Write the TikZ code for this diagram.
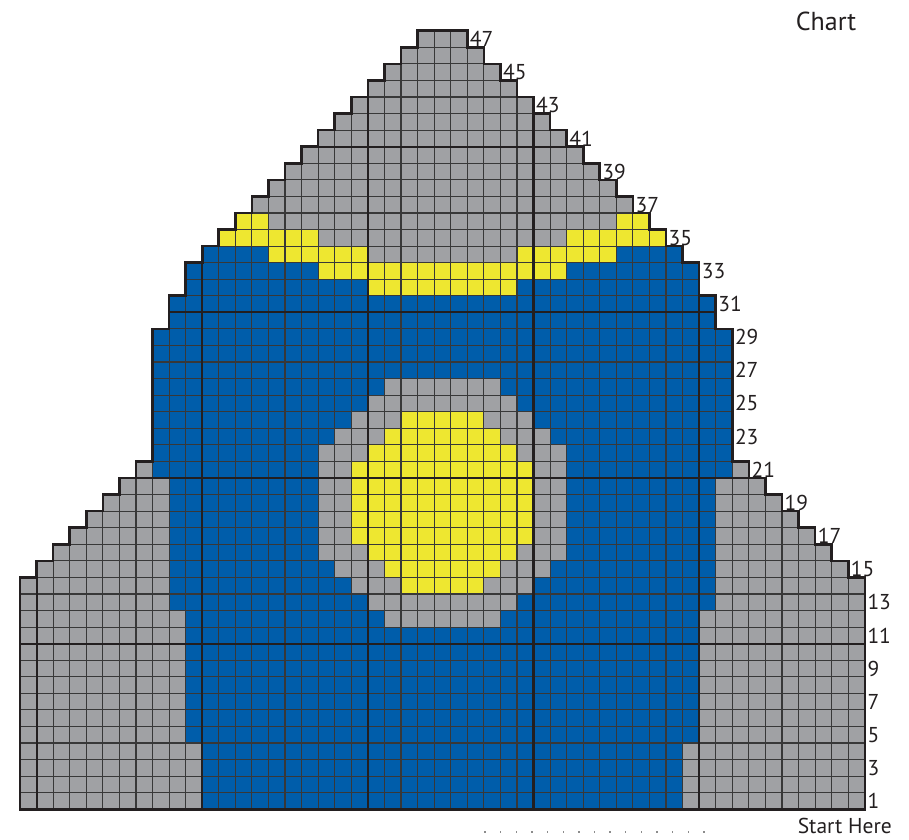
\documentclass[tikz,border=0pt]{standalone}
\usepackage{fontspec}
\setmainfont{PT Sans}
\definecolor{cgray}{HTML}{A0A1A4}
\definecolor{cblue}{HTML}{005DAA}
\definecolor{cyellow}{HTML}{EEE730}
\definecolor{cink}{HTML}{231F20}
\tikzset{
  gridthin/.style={draw=black!78, line width=1.1pt},
  gridthick/.style={draw=cink, line width=2.1pt},
  outlinestyle/.style={draw=cink, line width=2.6pt, line join=miter},
  rowlabel/.style={anchor=west, inner sep=0pt, xshift=2.5pt, font=\fontsize{21.5}{24}\selectfont, text=cink},
  bottomdot/.style={fill=black!45, minimum size=1.4pt, inner sep=0pt, shape=rectangle}
}
\def\outl{(0,0) -- (51,0) -- (51,14) -- (50,14) -- (50,15) -- (49,15) -- (49,16) -- (48,16) -- (48,17) -- (47,17) -- (47,18) -- (46,18) -- (46,19) -- (45,19) -- (45,20) -- (44,20) -- (44,21) -- (43,21) -- (43,29) -- (42,29) -- (42,31) -- (41,31) -- (41,33) -- (40,33) -- (40,34) -- (39,34) -- (39,35) -- (38,35) -- (38,36) -- (37,36) -- (37,37) -- (36,37) -- (36,38) -- (35,38) -- (35,39) -- (34,39) -- (34,40) -- (33,40) -- (33,41) -- (32,41) -- (32,42) -- (31,42) -- (31,43) -- (30,43) -- (30,44) -- (29,44) -- (29,45) -- (28,45) -- (28,46) -- (27,46) -- (27,47) -- (24,47) -- (24,46) -- (23,46) -- (23,45) -- (22,45) -- (22,44) -- (21,44) -- (21,43) -- (20,43) -- (20,42) -- (19,42) -- (19,41) -- (18,41) -- (18,40) -- (17,40) -- (17,39) -- (16,39) -- (16,38) -- (15,38) -- (15,37) -- (14,37) -- (14,36) -- (13,36) -- (13,35) -- (12,35) -- (12,34) -- (11,34) -- (11,33) -- (10,33) -- (10,31) -- (9,31) -- (9,29) -- (8,29) -- (8,21) -- (7,21) -- (7,20) -- (6,20) -- (6,19) -- (5,19) -- (5,18) -- (4,18) -- (4,17) -- (3,17) -- (3,16) -- (2,16) -- (2,15) -- (1,15) -- (1,14) -- (0,14) -- cycle}
\begin{document}
\begin{tikzpicture}[x=16.565pt, y=16.565pt]
\path[use as bounding box] (-1.2074,-1.793) rectangle (53.667,48.856);
% base gray
\fill[cgray] \outl;
% blue body
\fill[cblue] (11,0) rectangle (40,4);
\fill[cblue] (10,4) rectangle (41,12);
\fill[cblue] (9,12) rectangle (42,20);
\fill[cblue] (8,20) rectangle (43,29);
\fill[cblue] (9,29) rectangle (42,31);
\fill[cblue] (10,31) rectangle (41,33);
\fill[cblue] (11,33) rectangle (15,34);
\fill[cblue] (36,33) rectangle (40,34);
% yellow band
\fill[cyellow] (21,31) rectangle (30,32);
\fill[cyellow] (18,32) rectangle (33,33);
\fill[cyellow] (15,33) rectangle (21,34);
\fill[cyellow] (30,33) rectangle (36,34);
\fill[cyellow] (12,34) rectangle (18,35);
\fill[cyellow] (33,34) rectangle (39,35);
\fill[cyellow] (13,35) rectangle (15,36);
\fill[cyellow] (36,35) rectangle (38,36);
% circle: gray ring
\fill[cgray] (22,11) rectangle (29,12);
\fill[cgray] (21,12) rectangle (30,13);
\fill[cgray] (20,13) rectangle (31,14);
\fill[cgray] (19,14) rectangle (32,15);
\fill[cgray] (18,15) rectangle (33,22);
\fill[cgray] (19,22) rectangle (32,23);
\fill[cgray] (20,23) rectangle (31,24);
\fill[cgray] (21,24) rectangle (30,25);
\fill[cgray] (22,25) rectangle (29,26);
% circle: yellow centre
\fill[cyellow] (23,13) rectangle (28,14);
\fill[cyellow] (22,14) rectangle (29,15);
\fill[cyellow] (21,15) rectangle (30,16);
\fill[cyellow] (20,16) rectangle (31,21);
\fill[cyellow] (21,21) rectangle (30,22);
\fill[cyellow] (22,22) rectangle (29,23);
\fill[cyellow] (23,23) rectangle (28,24);
% grid lines
\begin{scope}
\clip \outl;
\foreach \gx in {1,...,50} \draw[gridthin] (\gx,0) -- (\gx,47);
\foreach \gy in {1,...,46} \draw[gridthin] (0,\gy) -- (51,\gy);
\foreach \gx in {1,11,21,31,41} \draw[gridthick] (\gx,0) -- (\gx,47);
\foreach \gy in {10,20,30,40} \draw[gridthick] (0,\gy) -- (51,\gy);
\end{scope}
\draw[outlinestyle] \outl;
% row numbers
\foreach \r/\R in {1/51,3/51,5/51,7/51,9/51,11/51,13/51,15/50,17/48,19/46,21/44,23/43,25/43,27/43,29/43,31/42,33/41,35/39,37/37,39/35,41/33,43/31,45/29,47/27}
  \node[rowlabel] (lbl\r) at (\R,\r-0.5) {\r};
\node[anchor=base, inner sep=0pt, font=\fontsize{26}{30}\selectfont, text=cink] (title) at (48.66,47.04) {Chart};
\node[anchor=base, inner sep=0pt, font=\fontsize{21.5}{24}\selectfont, text=cink] (start) at (49.79,-1.49) {Start Here};
\foreach \i in {0,...,14}
  \node[bottomdot] (dot\i) at ({(485-20+15.64*\i)/16.565},-1.37) {};
\end{tikzpicture}
\end{document}
